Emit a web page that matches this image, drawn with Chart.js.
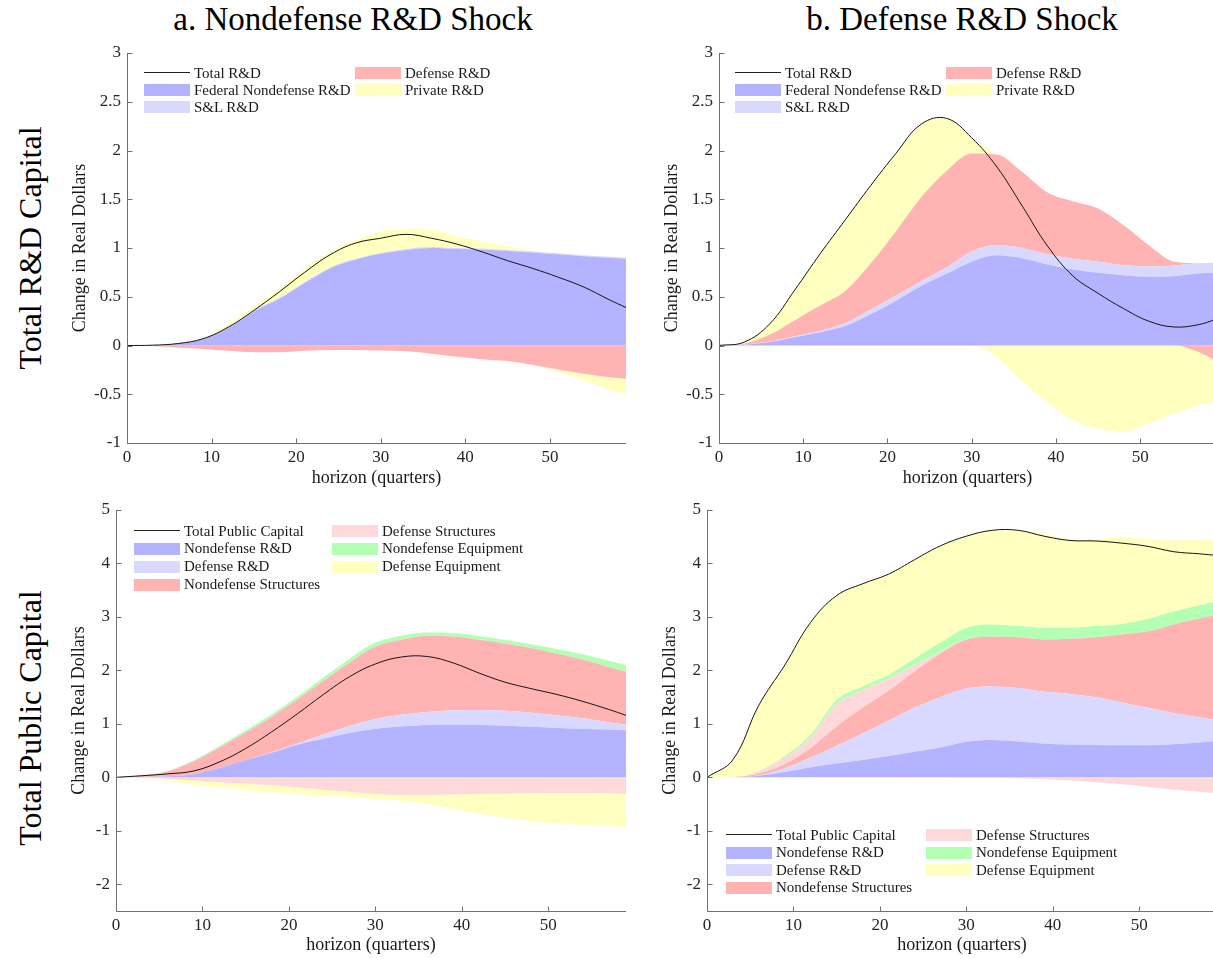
<!DOCTYPE html>
<html>
<head>
<meta charset="utf-8">
<script src="https://cdn.jsdelivr.net/npm/chart.js@4.4.1/dist/chart.umd.min.js"></script>
<style>
  html, body { margin: 0; padding: 0; background: #fff; }
  body { width: 1213px; height: 958px; overflow: hidden; position: relative;
         font-family: 'Liberation Serif', 'Times New Roman', serif; color: #000; }
  .panel { position: absolute; }
  .panel canvas { display: block; }
  .title { position: absolute; font-size: 33px; line-height: 1; white-space: nowrap; transform: translateX(-50%); }
  .rowlab { position: absolute; font-size: 32px; line-height: 1; white-space: nowrap;
            transform: translate(-50%, -50%) rotate(-90deg); }
  .item { position: absolute; height: 12px; display: flex; align-items: center; white-space: nowrap;
          font-size: 15px; line-height: 1; color: #1a1a1a; }
  .swatch { width: 46px; height: 12px; margin-right: 4px; flex: none; }
  .swatch.line { height: 1px; margin-top: 5px; margin-bottom: 6px; background: #222; }
</style>
</head>
<body>
<div class="title" style="left:353px; top:3px">a. Nondefense R&amp;D Shock</div>
<div class="title" style="left:962px; top:3px">b. Defense R&amp;D Shock</div>
<div class="rowlab" style="left:30px; top:248px">Total R&amp;D Capital</div>
<div class="rowlab" style="left:30px; top:718px">Total Public Capital</div>

<div class="panel" id="pa" style="left:60px; top:35px"><canvas id="ca" width="580" height="455"></canvas></div>
<div class="panel" id="pb" style="left:652px; top:35px"><canvas id="cb" width="578" height="455"></canvas></div>
<div class="panel" id="pc" style="left:50px; top:492px"><canvas id="cc" width="590" height="466"></canvas></div>
<div class="panel" id="pd" style="left:641px; top:492px"><canvas id="cd" width="590" height="466"></canvas></div>

<script>
const HORIZON = [0, 3, 6, 9, 12, 15, 18, 21, 24, 27, 30, 33, 36, 39, 42, 45, 48, 51, 54, 57, 59];
const X_TICKS = [0, 10, 20, 30, 40, 50];
const Y_TICKS_TOP = [-1, -0.5, 0, 0.5, 1, 1.5, 2, 2.5, 3];
const Y_TICKS_BOTTOM = [-2, -1, 0, 1, 2, 3, 4, 5];

// a. nondefense R&D shock, total R&D capital
const A_TOTAL      = [0, 0.003, 0.02, 0.07, 0.19, 0.36, 0.55, 0.75, 0.93, 1.05, 1.10, 1.14, 1.10, 1.04, 0.96, 0.87, 0.79, 0.70, 0.60, 0.47, 0.39];
const A_FED_NONDEF = [0, 0.003, 0.02, 0.07, 0.185, 0.35, 0.48, 0.64, 0.79, 0.88, 0.94, 0.98, 1.0, 0.99, 0.985, 0.97, 0.955, 0.935, 0.915, 0.90, 0.89];
const A_SL         = [0, 0, 0, 0, 0.005, 0.01, 0.01, 0.01, 0.01, 0.01, 0.01, 0.01, 0.01, 0.01, 0.01, 0.01, 0.01, 0.01, 0.01, 0.01, 0.01];
const A_DEFENSE    = [0, -0.005, -0.02, -0.035, -0.055, -0.07, -0.07, -0.055, -0.045, -0.045, -0.05, -0.06, -0.085, -0.115, -0.14, -0.16, -0.20, -0.245, -0.29, -0.325, -0.34];
const A_PRIVATE    = [0, 0, 0.005, 0.01, 0.03, 0.04, 0.09, 0.14, 0.16, 0.19, 0.22, 0.21, 0.18, 0.12, 0.075, 0.04, 0.005, -0.025, -0.065, -0.13, -0.16];

// b. defense R&D shock, total R&D capital
const B_TOTAL      = [0, 0.035, 0.22, 0.57, 0.94, 1.29, 1.64, 1.97, 2.27, 2.33, 2.13, 1.83, 1.43, 1.02, 0.715, 0.535, 0.38, 0.25, 0.19, 0.215, 0.27];
const B_FED_NONDEF = [0, 0.008, 0.035, 0.085, 0.137, 0.20, 0.32, 0.46, 0.61, 0.735, 0.86, 0.925, 0.895, 0.83, 0.78, 0.745, 0.72, 0.705, 0.71, 0.74, 0.745];
const B_SL         = [0, 0.002, 0.005, 0.01, 0.013, 0.03, 0.05, 0.05, 0.05, 0.065, 0.105, 0.105, 0.105, 0.105, 0.11, 0.115, 0.105, 0.105, 0.11, 0.105, 0.105];
const B_DEFENSE    = [0, 0.01, 0.07, 0.165, 0.26, 0.33, 0.47, 0.66, 0.86, 0.99, 1.005, 0.93, 0.78, 0.635, 0.59, 0.545, 0.41, 0.22, 0.04, -0.07, -0.16];
const B_PRIVATE    = [0, 0.015, 0.11, 0.31, 0.53, 0.73, 0.80, 0.80, 0.75, 0.54, 0.16, -0.12, -0.37, -0.585, -0.765, -0.855, -0.885, -0.80, -0.70, -0.54, -0.43];

// a. nondefense R&D shock, total public capital
const C_TOTAL        = [0, 0.03, 0.065, 0.12, 0.29, 0.54, 0.85, 1.19, 1.55, 1.88, 2.12, 2.25, 2.26, 2.14, 1.95, 1.78, 1.66, 1.55, 1.42, 1.27, 1.16];
const C_NONDEF_RD    = [0, 0.005, 0.02, 0.06, 0.18, 0.32, 0.46, 0.61, 0.72, 0.83, 0.91, 0.95, 0.98, 0.985, 0.98, 0.965, 0.945, 0.925, 0.91, 0.895, 0.88];
const C_DEF_RD       = [0, 0, 0, 0, 0, 0, 0.01, 0.025, 0.08, 0.13, 0.18, 0.22, 0.24, 0.27, 0.28, 0.28, 0.265, 0.235, 0.195, 0.135, 0.105];
const C_NONDEF_STRUCT= [0, 0.033, 0.095, 0.245, 0.38, 0.52, 0.665, 0.825, 1.01, 1.185, 1.355, 1.405, 1.425, 1.38, 1.315, 1.26, 1.21, 1.15, 1.095, 1.035, 0.99];
const C_DEF_STRUCT   = [0, -0.005, -0.03, -0.06, -0.09, -0.12, -0.15, -0.19, -0.23, -0.27, -0.31, -0.33, -0.335, -0.32, -0.31, -0.305, -0.30, -0.295, -0.295, -0.30, -0.305];
const C_NONDEF_EQUIP = [0, 0.002, 0.005, 0.015, 0.03, 0.04, 0.045, 0.05, 0.06, 0.075, 0.075, 0.075, 0.065, 0.065, 0.065, 0.065, 0.07, 0.09, 0.10, 0.115, 0.125];
const C_DEF_EQUIP    = [0, -0.005, -0.03, -0.08, -0.10, -0.11, -0.13, -0.12, -0.11, -0.10, -0.09, -0.11, -0.165, -0.27, -0.37, -0.445, -0.52, -0.565, -0.595, -0.61, -0.625];

// b. defense R&D shock, total public capital
const D_TOTAL        = [0, 0.33, 1.35, 2.10, 2.90, 3.40, 3.62, 3.80, 4.07, 4.33, 4.51, 4.62, 4.62, 4.51, 4.43, 4.42, 4.38, 4.32, 4.22, 4.18, 4.15];
const D_NONDEF_RD    = [0, 0.003, 0.03, 0.10, 0.19, 0.26, 0.325, 0.40, 0.48, 0.56, 0.665, 0.70, 0.67, 0.63, 0.615, 0.605, 0.60, 0.60, 0.62, 0.65, 0.69];
const D_DEF_RD       = [0, 0.001, 0.01, 0.07, 0.18, 0.33, 0.495, 0.66, 0.82, 0.94, 0.995, 1.0, 1.0, 0.97, 0.945, 0.895, 0.80, 0.70, 0.58, 0.47, 0.38];
const D_NONDEF_STRUCT= [0, 0, 0.03, 0.08, 0.18, 0.36, 0.48, 0.56, 0.68, 0.82, 0.92, 0.93, 0.95, 0.98, 1.03, 1.12, 1.27, 1.43, 1.66, 1.85, 1.97];
const D_DEF_STRUCT   = [0, 0, 0.04, 0.12, 0.20, 0.42, 0.33, 0.23, 0.12, 0.03, -0.01, -0.01, -0.02, -0.035, -0.06, -0.09, -0.13, -0.18, -0.23, -0.27, -0.30];
const D_NONDEF_EQUIP = [0, 0.001, 0.01, 0.03, 0.05, 0.08, 0.07, 0.07, 0.12, 0.17, 0.22, 0.23, 0.21, 0.22, 0.21, 0.21, 0.20, 0.23, 0.24, 0.25, 0.25];
const D_DEF_EQUIP    = [0, 0.325, 1.23, 1.70, 2.10, 1.95, 1.92, 1.88, 1.85, 1.81, 1.71, 1.76, 1.79, 1.75, 1.66, 1.63, 1.61, 1.50, 1.33, 1.22, 1.16];

const BLUE = '#b3b3ff';
const LAVENDER = '#d9d9ff';
const RED = '#ffb3b3';
const PINK = '#ffd9d9';
const GREEN = '#b3ffb3';
const YELLOW = '#ffffc0';
const AXIS = '#707070';

Chart.defaults.font.family = "'Liberation Serif', 'Times New Roman', serif";
Chart.defaults.color = '#262626';

const rdSeries = (fed, sl, def, priv) => [
  { label: 'Federal Nondefense R&D', color: BLUE, values: fed },
  { label: 'S&L R&D', color: LAVENDER, values: sl },
  { label: 'Defense R&D', color: RED, values: def },
  { label: 'Private R&D', color: YELLOW, values: priv },
];
const capSeries = (nrd, drd, ns, dst, ne, de) => [
  { label: 'Nondefense R&D', color: BLUE, values: nrd },
  { label: 'Defense R&D', color: LAVENDER, values: drd },
  { label: 'Nondefense Structures', color: RED, values: ns },
  { label: 'Defense Structures', color: PINK, values: dst },
  { label: 'Nondefense Equipment', color: GREEN, values: ne },
  { label: 'Defense Equipment', color: YELLOW, values: de },
];

const points = (vals) => HORIZON.map((h, i) => ({ x: h, y: vals[i] }));

// positive parts stack up from zero, negative parts stack down from zero
function buildDatasets(total, series) {
  const out = [{
    data: points(total), stack: 'total', borderColor: '#151515', borderWidth: 1,
    fill: false, pointRadius: 0, tension: 0.4,
  }];
  [['pos', v => Math.max(v, 0)], ['neg', v => Math.min(v, 0)]].forEach(([key, part]) => {
    let first = true;
    series.forEach(s => {
      const vals = s.values.map(part);
      if (!vals.some(v => v !== 0)) return;
      out.push({
        data: points(vals), stack: key, backgroundColor: s.color, borderWidth: 0,
        fill: first ? 'origin' : '-1', pointRadius: 0, cubicInterpolationMode: 'monotone',
      });
      first = false;
    });
  });
  return out;
}

// MATLAB-style box: left and bottom axes only, ticks pointing inward
const axesPlugin = {
  id: 'inwardAxes',
  afterDraw(chart) {
    const { ctx, chartArea: a, scales: { x, y } } = chart;
    const L = Math.round(a.left) + 0.5, B = Math.round(a.bottom) + 0.5;
    ctx.save();
    ctx.strokeStyle = AXIS;
    ctx.lineWidth = 1;
    ctx.beginPath();
    ctx.moveTo(L, a.top);
    ctx.lineTo(L, B);
    ctx.lineTo(a.right, B);
    x.ticks.forEach(t => {
      const px = Math.round(x.getPixelForValue(t.value)) + 0.5;
      ctx.moveTo(px, B); ctx.lineTo(px, B - 5);
    });
    y.ticks.forEach(t => {
      const py = Math.round(y.getPixelForValue(t.value)) + 0.5;
      ctx.moveTo(L, py); ctx.lineTo(L + 5, py);
    });
    ctx.stroke();
    ctx.restore();
  },
};

function makeChart(canvasId, p) {
  return new Chart(document.getElementById(canvasId), {
    type: 'line',
    data: { datasets: buildDatasets(p.total, p.series) },
    options: {
      responsive: false,
      animation: false,
      layout: { padding: { top: 18, right: 14, left: 0, bottom: 0 } },
      plugins: { legend: { display: false }, tooltip: { enabled: false } },
      elements: { point: { radius: 0 } },
      scales: {
        x: {
          type: 'linear', min: 0, max: 59,
          grid: { display: false, drawTicks: false }, border: { display: false },
          afterBuildTicks: s => { s.ticks = X_TICKS.map(v => ({ value: v })); },
          afterFit: s => { s.height = 47; },
          ticks: { font: { size: 17 }, padding: 4, maxRotation: 0, autoSkip: false, callback: v => String(v) },
          title: { display: true, text: 'horizon (quarters)', font: { size: 18 }, color: '#1a1a1a',
                   padding: { top: 0, bottom: p.xTitlePad } },
        },
        y: {
          type: 'linear', stacked: true, min: p.yMin, max: p.yMax,
          grid: { display: false, drawTicks: false }, border: { display: false },
          afterBuildTicks: s => { s.ticks = p.yTicks.map(v => ({ value: v })); },
          afterFit: s => { s.width = p.yWidth; },
          ticks: { font: { size: 17 }, padding: 6, autoSkip: false, callback: v => String(v) },
          title: { display: true, text: 'Change in Real Dollars', font: { size: 18 }, color: '#1a1a1a',
                   padding: { top: p.yTitlePad, bottom: 0 } },
        },
      },
    },
    plugins: [axesPlugin],
  });
}

// legend drawn as html, column-major like the original
function makeLegend(p) {
  const items = [{ label: p.totalLabel, line: true }].concat(p.series);
  items.forEach((it, k) => {
    const col = Math.floor(k / p.legend.rows), row = k % p.legend.rows;
    const el = document.createElement('div');
    el.className = 'item';
    el.style.left = (p.legend.left + col * p.legend.colDx) + 'px';
    el.style.top = (p.legend.top + row * p.legend.rowDy) + 'px';
    const sw = document.createElement('div');
    sw.className = it.line ? 'swatch line' : 'swatch';
    if (!it.line) sw.style.background = it.color;
    const tx = document.createElement('span');
    tx.textContent = it.label;
    el.appendChild(sw); el.appendChild(tx);
    document.body.appendChild(el);
  });
}

const PANELS = [
  { canvas: 'ca', total: A_TOTAL, totalLabel: 'Total R&D', series: rdSeries(A_FED_NONDEF, A_SL, A_DEFENSE, A_PRIVATE),
    yMin: -1, yMax: 3, yTicks: Y_TICKS_TOP, yWidth: 67, yTitlePad: 9, xTitlePad: 1,
    legend: { left: 144, top: 67, colDx: 211, rowDy: 17.2, rows: 3 } },
  { canvas: 'cb', total: B_TOTAL, totalLabel: 'Total R&D', series: rdSeries(B_FED_NONDEF, B_SL, B_DEFENSE, B_PRIVATE),
    yMin: -1, yMax: 3, yTicks: Y_TICKS_TOP, yWidth: 67, yTitlePad: 9, xTitlePad: 1,
    legend: { left: 735, top: 67, colDx: 211, rowDy: 17.2, rows: 3 } },
  { canvas: 'cc', total: C_TOTAL, totalLabel: 'Total Public Capital',
    series: capSeries(C_NONDEF_RD, C_DEF_RD, C_NONDEF_STRUCT, C_DEF_STRUCT, C_NONDEF_EQUIP, C_DEF_EQUIP),
    yMin: -2.5, yMax: 5, yTicks: Y_TICKS_BOTTOM, yWidth: 66, yTitlePad: 18, xTitlePad: 2,
    legend: { left: 134, top: 525, colDx: 198, rowDy: 17.9, rows: 4 } },
  { canvas: 'cd', total: D_TOTAL, totalLabel: 'Total Public Capital',
    series: capSeries(D_NONDEF_RD, D_DEF_RD, D_NONDEF_STRUCT, D_DEF_STRUCT, D_NONDEF_EQUIP, D_DEF_EQUIP),
    yMin: -2.5, yMax: 5, yTicks: Y_TICKS_BOTTOM, yWidth: 66, yTitlePad: 18, xTitlePad: 2,
    legend: { left: 726, top: 829, colDx: 200, rowDy: 17.6, rows: 4 } },
];

PANELS.forEach(p => { makeChart(p.canvas, p); makeLegend(p); });
</script>
</body>
</html>
